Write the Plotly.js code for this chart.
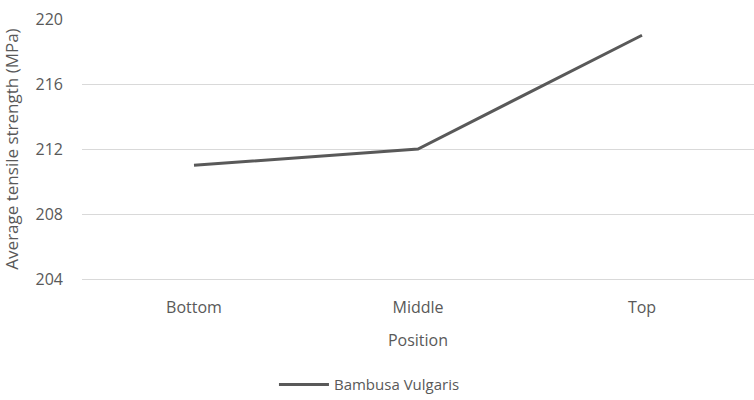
<!DOCTYPE html>
<html><head><meta charset="utf-8">
<script src="https://cdn.plot.ly/plotly-3.0.1.min.js"></script>
<style>body{margin:0;background:#fff}#chart{width:754px;height:400px}</style>
</head><body><div id="chart"></div>
<script>
const categories = ["Bottom", "Middle", "Top"];
const strength = [211, 212, 219];
const seriesName = "Bambusa Vulgaris";
const yTicks = [204, 208, 212, 216, 220];

const font = {family: "Open Sans, Noto Sans, sans-serif", size: 16, color: "#595959"};
const yTitleFont = {family: "Open Sans, Noto Sans, sans-serif", size: 17, color: "#595959"};
const legendFont = {family: "Open Sans, Noto Sans, sans-serif", size: 15, color: "#595959"};
Plotly.newPlot("chart", [{
  x: categories, y: strength, type: "scatter", mode: "lines", name: seriesName,
  line: {color: "#595959", width: 3}
}], {
  width: 754, height: 400,
  margin: {l: 82, r: 0, t: 19, b: 121},
  paper_bgcolor: "#fff", plot_bgcolor: "#fff",
  font: font,
  showlegend: true,
  legend: {orientation: "h", x: 0.49, xanchor: "center", xref: "container", yref: "container", y: 0.038, yanchor: "middle", font: legendFont, itemwidth: 50},
  xaxis: {
    type: "category", range: [-0.5, 2.5], showgrid: false, zeroline: false,
    showline: true, linecolor: "#d9d9d9", linewidth: 1, ticks: "",
    tickfont: font, ticklabelstandoff: 14,
    title: {text: "Position", font: font, standoff: 17}
  },
  yaxis: {
    range: [204, 220], tickvals: yTicks, showgrid: true, gridcolor: "#d9d9d9", gridwidth: 1,
    zeroline: false, showline: false, ticks: "", tickfont: font, ticklabelstandoff: 18,
    title: {text: "Average tensile strength (MPa)", font: yTitleFont, standoff: 13}
  }
}, {displayModeBar: false, staticPlot: true});
</script></body></html>
